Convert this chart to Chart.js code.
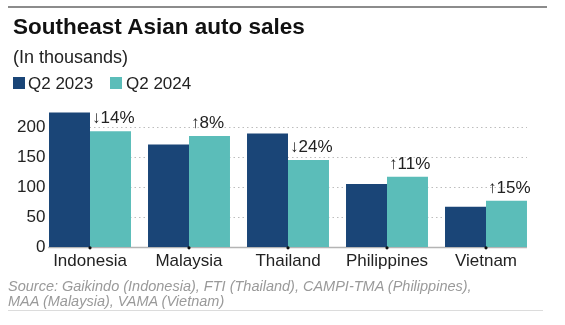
<!DOCTYPE html>
<html>
<head>
<meta charset="utf-8">
<script src="https://cdn.jsdelivr.net/npm/chart.js@4"></script>
<style>
  html, body { margin: 0; padding: 0; background: #fff; }
  #wrap { position: relative; width: 565px; height: 325px; overflow: hidden; font-family: "Liberation Sans", Arial, sans-serif; }
  canvas { position: absolute; left: 0; top: 0; }
  .t { position: absolute; white-space: nowrap; line-height: 1; }
  #title { left: 13px; top: 16.4px; font-size: 22.5px; font-weight: bold; color: #111; }
  #sub { left: 13px; top: 48px; font-size: 18px; color: #222; }
  .leg { position: absolute; top: 74.6px; font-size: 17px; color: #222; line-height: 1; white-space: nowrap; }
  .sw { position: absolute; width: 12px; height: 12px; }
  #src { left: 8px; top: 279.2px; font-size: 14.5px; line-height: 15px; font-style: italic; color: #9a9a9a; }
  .rule { position: absolute; }
</style>
</head>
<body>
<div id="wrap">
  <canvas id="c" width="565" height="325"></canvas>
  <div class="rule" style="left:8px;top:6px;width:539px;height:2px;background:#8c8c8c;"></div>
  <div class="rule" style="left:8px;top:310px;width:535px;height:1px;background:#dcdcdc;"></div>
  <div class="t" id="title">Southeast Asian auto sales</div>
  <div class="t" id="sub">(In thousands)</div>
  <div class="sw" style="left:13px;top:77px;background:#1a4577;"></div>
  <div class="leg" style="left:28px;">Q2 2023</div>
  <div class="sw" style="left:110px;top:77px;background:#5bbdb9;"></div>
  <div class="leg" style="left:126px;">Q2 2024</div>
  <div class="t" id="src">Source: Gaikindo (Indonesia), FTI (Thailand), CAMPI-TMA (Philippines),<br>MAA (Malaysia), VAMA (Vietnam)</div>
</div>
<script>
const categories = ["Indonesia", "Malaysia", "Thailand", "Philippines", "Vietnam"];
const seriesNames = ["Q2 2023", "Q2 2024"];
const q2_2023 = [224, 171, 189, 105, 67];
const q2_2024 = [193, 185, 145, 117, 77];
const changeLabels = ["\u219314%", "\u21918%", "\u219324%", "\u219111%", "\u219115%"];
const yTicks = [0, 50, 100, 150, 200];

const FONT = '"Liberation Sans", Arial, sans-serif';

const decor = {
  id: 'decor',
  beforeDatasetsDraw(chart) {
    const ctx = chart.ctx;
    const y = chart.scales.y;
    const m0 = chart.getDatasetMeta(0).data;
    const m1 = chart.getDatasetMeta(1).data;
    const left = m0[0].x - m0[0].width / 2;
    const right = m1[m1.length - 1].x + m1[m1.length - 1].width / 2;
    ctx.save();
    ctx.strokeStyle = '#bdbdbd';
    ctx.lineWidth = 1;
    ctx.setLineDash([1.5, 3]);
    yTicks.forEach(v => {
      if (v === 0) return;
      const py = Math.round(y.getPixelForValue(v)) + 0.5;
      ctx.beginPath(); ctx.moveTo(left, py); ctx.lineTo(right, py); ctx.stroke();
    });
    ctx.setLineDash([]);
    ctx.strokeStyle = '#b4b4b4';
    ctx.lineWidth = 1.5;
    const by = y.getPixelForValue(0);
    ctx.beginPath(); ctx.moveTo(left - 1, by + 0.5); ctx.lineTo(right, by + 0.5); ctx.stroke();
    ctx.restore();
  },
  afterDatasetsDraw(chart) {
    const ctx = chart.ctx;
    const y = chart.scales.y, x = chart.scales.x;
    const m1 = chart.getDatasetMeta(1).data;
    ctx.save();
    ctx.fillStyle = '#111';
    const by = y.getPixelForValue(0);
    categories.forEach((c, i) => {
      const px = x.getPixelForValue(i);
      ctx.beginPath(); ctx.arc(px, by + 0.8, 1.6, 0, Math.PI * 2); ctx.fill();
    });
    ctx.fillStyle = '#222';
    ctx.font = '17px ' + FONT;
    ctx.textAlign = 'left';
    ctx.textBaseline = 'alphabetic';
    m1.forEach((bar, i) => {
      ctx.fillText(changeLabels[i], bar.x - bar.width / 2 + 2, bar.y - 8);
    });
    ctx.restore();
  }
};

new Chart(document.getElementById('c'), {
  type: 'bar',
  data: {
    labels: categories,
    datasets: [
      { label: seriesNames[0], data: q2_2023, backgroundColor: '#1a4577', borderWidth: 0 },
      { label: seriesNames[1], data: q2_2024, backgroundColor: '#5bbdb9', borderWidth: 0 }
    ]
  },
  options: {
    responsive: false,
    devicePixelRatio: 1,
    animation: false,
    layout: { padding: { left: 0, right: 29.5, top: 109, bottom: 48 } },
    datasets: { bar: { barPercentage: 1, categoryPercentage: 0.828 } },
    plugins: { legend: { display: false }, tooltip: { enabled: false }, title: { display: false } },
    scales: {
      x: {
        grid: { display: false, drawTicks: false },
        border: { display: false },
        ticks: { font: { family: FONT, size: 17 }, color: '#222', padding: 4, maxRotation: 0, autoSkip: false },
        afterFit(s) { s.height = 30; }
      },
      y: {
        min: 0, max: 230,
        grid: { display: false, drawTicks: false },
        border: { display: false },
        ticks: { stepSize: 50, font: { family: FONT, size: 17 }, color: '#222', mirror: true, crossAlign: 'far', padding: -23.5 },
        afterBuildTicks(s) { s.ticks = yTicks.map(v => ({ value: v })); },
        afterFit(s) { s.width = 40.5; }
      }
    }
  },
  plugins: [decor]
});
</script>
</body>
</html>
